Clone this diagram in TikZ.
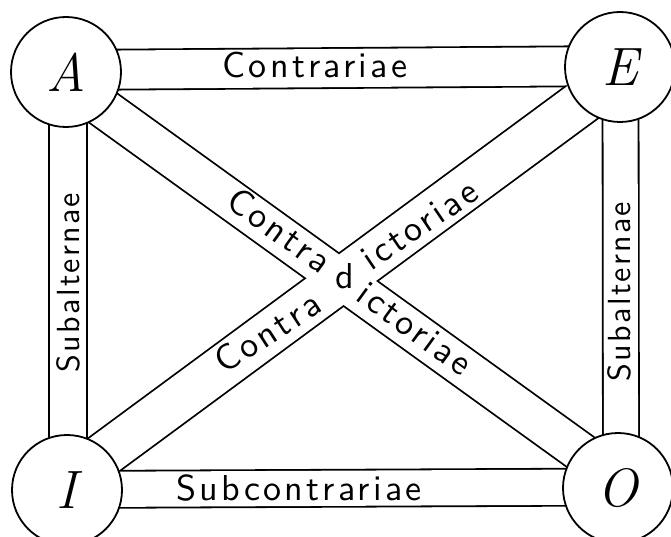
\documentclass[tikz,border=0pt]{standalone}
\usepackage{fontspec}
\newfontfamily\labfont{lmsans10-regular.otf}[LetterSpace=9]
\newfontfamily\vlabfont{lmsans10-regular.otf}[LetterSpace=7]
\usetikzlibrary{calc}
\tikzset{
  circ/.style={circle, draw=black, line width=1.8pt, fill=white, minimum size=110pt,
    inner sep=0pt, font=\itshape\fontsize{54}{54}\selectfont},
  bandout/.style={line width=#1, draw=black, line cap=butt},
  bandin/.style={line width=#1, draw=white, line cap=butt},
  lab/.style={font=\labfont\fontsize{36}{36}\selectfont, inner sep=0pt, anchor=base},
  vlab/.style={font=\vlabfont\fontsize{32}{32}\selectfont, inner sep=0pt, anchor=base, rotate=90},
}
\begin{document}
\begin{tikzpicture}[x=1pt, y=-1pt]
\useasboundingbox (0,0) rectangle (671,537);
\fill[white] (0,0) rectangle (671,537);
% circle centres
\coordinate (cA) at (66,72);
\coordinate (cE) at (620,67);
\coordinate (cI) at (67,490);
\coordinate (cO) at (618,488);
% band end points
\coordinate (tA) at ($(cA)+(0,-2)$);
\coordinate (tE) at ($(cE)+(0,-1)$);
\coordinate (bI) at ($(cI)+(0,-0.5)$);
\coordinate (bO) at ($(cO)+(0,-1)$);
\coordinate (lA) at ($(cA)+(2,0)$);
\coordinate (lI) at ($(cI)+(1,0)$);
\coordinate (rE) at ($(cE)+(0.5,0)$);
\coordinate (rO) at ($(cO)+(3,0)$);
\coordinate (dA) at ($(cA)+(-4.5,6)$);
\coordinate (dO) at ($(cO)+(4.3,-5.8)$);
\coordinate (dE) at ($(cE)+(3.5,4.6)$);
\coordinate (dI) at ($(cI)+(-4,-5.2)$);
% outer (black) bands
\draw[bandout=41.8pt] (tA) -- (tE);
\draw[bandout=38.8pt] (bI) -- (bO);
\draw[bandout=39.8pt] (lA) -- (lI);
\draw[bandout=37.8pt] (rE) -- (rO);
\draw[bandout=41.8pt] (dA) -- (dO);
\draw[bandout=46.8pt] (dE) -- (dI);
% inner (white) bands
\draw[bandin=38.2pt] (tA) -- (tE);
\draw[bandin=35.2pt] (bI) -- (bO);
\draw[bandin=36.2pt] (lA) -- (lI);
\draw[bandin=34.2pt] (rE) -- (rO);
\draw[bandin=38.2pt] (dA) -- (dO);
\draw[bandin=43.2pt] (dE) -- (dI);
% circles
\node[circ] (A) at (cA) {A};
\node[circ] (E) at (cE) {E};
\node[circ] (I) at (cI) {I};
\node[circ] (O) at (cO) {O};
% labels
\node[lab] (contrariae) at (315,78) {Contrariae};
\node[lab] (subcontrariae) at (299,500) {Subcontrariae};
\node[vlab] (subL) at (79,282.5) {Subalternae};
\node[vlab] (subR) at (630,291.5) {Subalternae};
\node[lab, rotate=-36] (c1) at (272.3,240) {Contra};
\node[lab] (dd) at (345,288) {d};
\node[lab, rotate=34] (i1) at (426,234.6) {ictoriae};
\node[lab, rotate=33] (c2) at (274.4,342.7) {Contra};
\node[lab, rotate=-36] (i2) at (407.8,338) {ictoriae};
\end{tikzpicture}
\end{document}
